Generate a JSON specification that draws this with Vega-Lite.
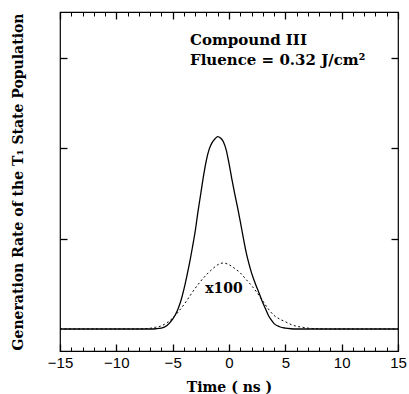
{
  "$schema": "https://vega.github.io/schema/vega-lite/v6.json",
  "width": 338,
  "height": 339,
  "autosize": {"type": "none"},
  "padding": {"left": 60, "top": 12, "right": 11, "bottom": 43},
  "background": "white",
  "config": {
    "view": {"stroke": "black", "strokeWidth": 1.2},
    "axis": {"domain": false, "grid": false, "ticks": true, "zindex": 1, "tickColor": "black", "labelColor": "black", "titleColor": "black"}
  },
  "datasets": {
    "curves": [
      {"t": -15, "v": 0, "s": "a"}, {"t": -7, "v": 0, "s": "a"}, {"t": -6.5, "v": 0.003, "s": "a"}, {"t": -6, "v": 0.01, "s": "a"},
      {"t": -5.5, "v": 0.04, "s": "a"}, {"t": -5, "v": 0.11, "s": "a"}, {"t": -4.75, "v": 0.16, "s": "a"}, {"t": -4.5, "v": 0.23, "s": "a"},
      {"t": -4.25, "v": 0.32, "s": "a"}, {"t": -4, "v": 0.44, "s": "a"}, {"t": -3.75, "v": 0.58, "s": "a"}, {"t": -3.5, "v": 0.73, "s": "a"},
      {"t": -3.25, "v": 0.9, "s": "a"}, {"t": -3, "v": 1.08, "s": "a"}, {"t": -2.75, "v": 1.3, "s": "a"}, {"t": -2.5, "v": 1.5, "s": "a"},
      {"t": -2.25, "v": 1.7, "s": "a"}, {"t": -2, "v": 1.87, "s": "a"}, {"t": -1.75, "v": 1.99, "s": "a"}, {"t": -1.5, "v": 2.06, "s": "a"},
      {"t": -1.25, "v": 2.1, "s": "a"}, {"t": -1, "v": 2.125, "s": "a"}, {"t": -0.75, "v": 2.11, "s": "a"}, {"t": -0.5, "v": 2.07, "s": "a"},
      {"t": -0.25, "v": 1.98, "s": "a"}, {"t": 0, "v": 1.83, "s": "a"}, {"t": 0.25, "v": 1.66, "s": "a"}, {"t": 0.5, "v": 1.5, "s": "a"},
      {"t": 0.75, "v": 1.35, "s": "a"}, {"t": 1, "v": 1.19, "s": "a"}, {"t": 1.25, "v": 1.02, "s": "a"}, {"t": 1.5, "v": 0.86, "s": "a"},
      {"t": 1.75, "v": 0.73, "s": "a"}, {"t": 2, "v": 0.62, "s": "a"}, {"t": 2.25, "v": 0.53, "s": "a"}, {"t": 2.5, "v": 0.45, "s": "a"},
      {"t": 2.75, "v": 0.37, "s": "a"}, {"t": 3, "v": 0.29, "s": "a"}, {"t": 3.25, "v": 0.22, "s": "a"}, {"t": 3.5, "v": 0.15, "s": "a"},
      {"t": 3.75, "v": 0.1, "s": "a"}, {"t": 4, "v": 0.06, "s": "a"}, {"t": 4.5, "v": 0.025, "s": "a"}, {"t": 5, "v": 0.01, "s": "a"},
      {"t": 5.5, "v": 0.003, "s": "a"}, {"t": 6, "v": 0, "s": "a"}, {"t": 15, "v": 0, "s": "a"},
      {"t": -15, "v": 0, "s": "b"}, {"t": -8, "v": 0, "s": "b"}, {"t": -7.5, "v": 0.004, "s": "b"}, {"t": -7, "v": 0.008, "s": "b"},
      {"t": -6.5, "v": 0.02, "s": "b"}, {"t": -6, "v": 0.035, "s": "b"}, {"t": -5.5, "v": 0.07, "s": "b"}, {"t": -5, "v": 0.12, "s": "b"},
      {"t": -4.5, "v": 0.19, "s": "b"}, {"t": -4, "v": 0.27, "s": "b"}, {"t": -3.5, "v": 0.36, "s": "b"}, {"t": -3, "v": 0.45, "s": "b"},
      {"t": -2.5, "v": 0.53, "s": "b"}, {"t": -2, "v": 0.6, "s": "b"}, {"t": -1.5, "v": 0.66, "s": "b"}, {"t": -1, "v": 0.71, "s": "b"},
      {"t": -0.5, "v": 0.73, "s": "b"}, {"t": 0, "v": 0.71, "s": "b"}, {"t": 0.5, "v": 0.67, "s": "b"}, {"t": 1, "v": 0.62, "s": "b"},
      {"t": 1.5, "v": 0.55, "s": "b"}, {"t": 2, "v": 0.48, "s": "b"}, {"t": 2.5, "v": 0.4, "s": "b"}, {"t": 3, "v": 0.31, "s": "b"},
      {"t": 3.5, "v": 0.22, "s": "b"}, {"t": 4, "v": 0.15, "s": "b"}, {"t": 4.5, "v": 0.11, "s": "b"}, {"t": 5, "v": 0.08, "s": "b"},
      {"t": 5.5, "v": 0.05, "s": "b"}, {"t": 6, "v": 0.03, "s": "b"}, {"t": 6.5, "v": 0.02, "s": "b"}, {"t": 7, "v": 0.01, "s": "b"},
      {"t": 7.5, "v": 0.005, "s": "b"}, {"t": 8, "v": 0.002, "s": "b"}, {"t": 9, "v": 0, "s": "b"}, {"t": 15, "v": 0, "s": "b"}
    ],
    "lbl100": [{"t": -0.44, "v": 0.4, "label": "x100"}],
    "lbl1": [{"t": -3.46, "v": 3.14, "label": "Compound III"}],
    "lbl2": [{"t": -3.46, "v": 2.92, "label": "Fluence = 0.32 J/cm²"}]
  },
  "resolve": {"scale": {"x": "shared", "y": "shared"}, "axis": {"x": "independent", "y": "independent"}},
  "layer": [
    {
      "data": {"name": "curves"},
      "transform": [{"filter": "datum.s === 'a'"}],
      "mark": {"type": "line", "color": "black", "strokeWidth": 1.3, "interpolate": "monotone"},
      "encoding": {
        "x": {"field": "t", "type": "quantitative", "scale": {"domain": [-15, 15], "nice": false, "zero": false},
          "axis": {"orient": "bottom", "values": [-15, -10, -5, 0, 5, 10, 15], "tickSize": -7, "tickWidth": 1.3, "labelFlush": false,
            "labelFont": "Liberation Sans", "labelFontSize": 15, "labelPadding": 11,
            "title": "Time ( ns )", "titleFont": "DejaVu Serif", "titleFontSize": 14, "titleFontWeight": "bold", "titlePadding": 10}},
        "y": {"field": "v", "type": "quantitative", "scale": {"domain": [-0.243, 3.503], "nice": false, "zero": false},
          "axis": {"orient": "left", "values": [1, 2, 3], "labels": false, "tickSize": -7, "tickWidth": 1.3,
            "title": "Generation Rate of the T₁ State Population", "titleFont": "DejaVu Serif", "titleFontSize": 14, "titleFontWeight": "bold", "titlePadding": 34}}
      }
    },
    {
      "data": {"name": "curves"},
      "transform": [{"filter": "datum.s === 'b'"}],
      "mark": {"type": "line", "color": "black", "strokeWidth": 1, "strokeDash": [2, 2.5], "interpolate": "monotone"},
      "encoding": {
        "x": {"field": "t", "type": "quantitative",
          "axis": {"orient": "top", "values": [-15, -10, -5, 0, 5, 10, 15], "labels": false, "tickSize": -7, "tickWidth": 1.3, "title": null}},
        "y": {"field": "v", "type": "quantitative",
          "axis": {"orient": "right", "values": [1, 2, 3], "labels": false, "tickSize": -7, "tickWidth": 1.3, "title": null}}
      }
    },
    {
      "data": {"name": "lbl100"},
      "mark": {"type": "text", "font": "DejaVu Serif", "fontWeight": "bold", "fontSize": 14, "align": "center", "baseline": "alphabetic", "color": "black"},
      "encoding": {
        "x": {"field": "t", "type": "quantitative",
          "axis": {"orient": "bottom", "values": [-14, -13, -12, -11, -9, -8, -7, -6, -4, -3, -2, -1, 1, 2, 3, 4, 6, 7, 8, 9, 11, 12, 13, 14], "labels": false, "tickSize": -4, "tickWidth": 1, "title": null}},
        "y": {"field": "v", "type": "quantitative", "axis": null},
        "text": {"field": "label"}
      }
    },
    {
      "data": {"name": "lbl1"},
      "mark": {"type": "text", "font": "DejaVu Serif", "fontWeight": "bold", "fontSize": 15, "align": "left", "baseline": "alphabetic", "color": "black"},
      "encoding": {
        "x": {"field": "t", "type": "quantitative",
          "axis": {"orient": "top", "values": [-14, -13, -12, -11, -9, -8, -7, -6, -4, -3, -2, -1, 1, 2, 3, 4, 6, 7, 8, 9, 11, 12, 13, 14], "labels": false, "tickSize": -4, "tickWidth": 1, "title": null}},
        "y": {"field": "v", "type": "quantitative", "axis": null},
        "text": {"field": "label"}
      }
    },
    {
      "data": {"name": "lbl2"},
      "mark": {"type": "text", "font": "DejaVu Serif", "fontWeight": "bold", "fontSize": 15, "align": "left", "baseline": "alphabetic", "color": "black"},
      "encoding": {
        "x": {"field": "t", "type": "quantitative", "axis": null},
        "y": {"field": "v", "type": "quantitative", "axis": null},
        "text": {"field": "label"}
      }
    }
  ]
}
